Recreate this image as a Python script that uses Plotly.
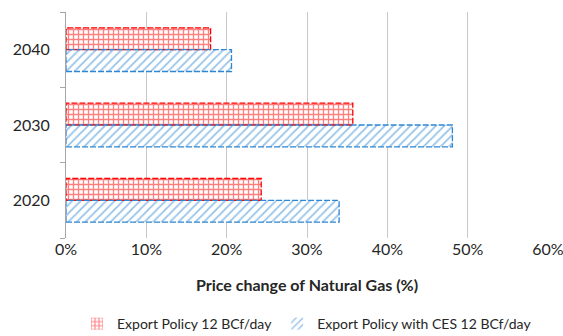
import plotly.graph_objects as go

# Data
years = ["2020", "2030", "2040"]
export_policy = [24.3, 35.7, 18.0]          # Export Policy 12 BCf/day (%)
export_policy_ces = [34.0, 48.1, 20.6]      # Export Policy with CES 12 BCf/day (%)
x_ticks = [0, 10, 20, 30, 40, 50, 60]
x_tick_text = [f"{v}%" for v in x_ticks]

RED = "#FF0000"
BLUE = "#2F86D2"
BAR_W = 0.29
pos = list(range(len(years)))


def outline(values, offset, color):
    xs, ys = [], []
    for p, v in zip(pos, values):
        y0, y1 = p + offset, p + offset + BAR_W
        xs += [0, v, v, 0, 0, None]
        ys += [y0, y0, y1, y1, y0, None]
    return go.Scatter(x=xs, y=ys, mode="lines", showlegend=False, hoverinfo="skip",
                      line=dict(color=color, width=1.3, dash="6px,2px"))


fig = go.Figure()
fig.add_trace(go.Bar(
    y=pos, x=export_policy, orientation="h", name="Export Policy 12 BCf/day",
    width=BAR_W, offset=0,
    marker=dict(color="white", line=dict(width=0),
                pattern=dict(shape="+", fgcolor=RED, bgcolor="white", size=5, solidity=0.45)),
))
fig.add_trace(go.Bar(
    y=pos, x=export_policy_ces, orientation="h", name="Export Policy with CES 12 BCf/day",
    width=BAR_W, offset=-BAR_W,
    marker=dict(color="white", line=dict(width=0),
                pattern=dict(shape="/", fgcolor=BLUE, bgcolor="white", size=6, solidity=0.3)),
))
fig.add_trace(outline(export_policy, 0, RED))
fig.add_trace(outline(export_policy_ces, -BAR_W, BLUE))

fig.update_layout(
    width=563, height=336,
    margin=dict(l=66, r=15, t=12, b=98, autoexpand=False),
    paper_bgcolor="white", plot_bgcolor="white",
    font=dict(family="Lato, Carlito, sans-serif", color="#262626"),
    barmode="overlay",
    legend=dict(orientation="h", x=0.5, xanchor="center", y=-0.31, yanchor="top",
                font=dict(size=14), itemwidth=30, tracegroupgap=0),
    xaxis=dict(range=[0, 60], tickvals=x_ticks, ticktext=x_tick_text, automargin=False,
               ticklabeloverflow="allow",
               showgrid=True, gridcolor="#C8C8C8", gridwidth=1, zeroline=False,
               showline=False, ticks="", tickfont=dict(size=16),
               title=dict(text="<b>Price change of Natural Gas (%)</b>",
                          font=dict(size=16), standoff=22)),
    yaxis=dict(range=[-0.5, 2.5], tickvals=pos, ticktext=years, automargin=False,
               showgrid=False, zeroline=False, showline=True, linecolor="#A6A6A6",
               linewidth=1, ticks="", tickfont=dict(size=16), ticklabelstandoff=12,
               minor=dict(ticks="outside", tick0=0.5, dtick=1, ticklen=5,
                          tickcolor="#A6A6A6", showgrid=False)),
)

fig.write_html("out.html")
